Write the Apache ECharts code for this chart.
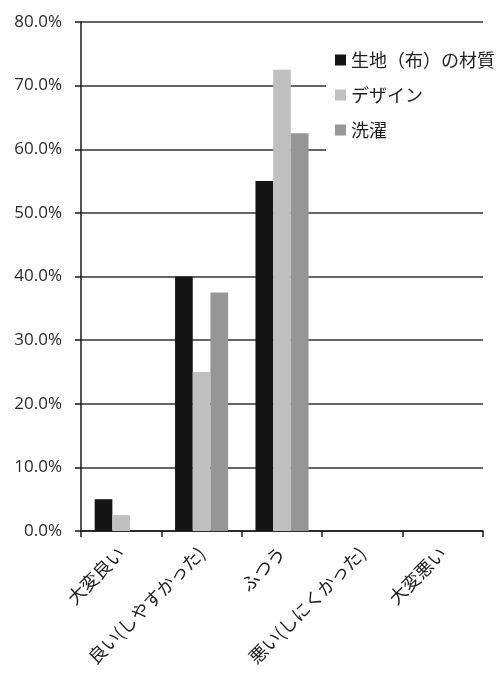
<!DOCTYPE html>
<html>
<head>
<meta charset="utf-8">
<script src="https://cdn.jsdelivr.net/npm/echarts@6/dist/echarts.min.js"></script>
<style>
  html, body { margin: 0; padding: 0; background: #fff; }
  #chart { width: 497px; height: 675px; }
</style>
</head>
<body>
<div id="chart"></div>
<script>
// Survey answer categories (x axis)
const categories = ['大変良い', '良い(しやすかった)', 'ふつう', '悪い(しにくかった)', '大変悪い'];

// Share of answers per aspect, in percent
const seriesNames = ['生地（布）の材質', 'デザイン', '洗濯'];
const fabricValues = [5.0, 40.0, 55.0, 0, 0];
const designValues = [2.5, 25.0, 72.5, 0, 0];
const washingValues = [0, 37.5, 62.5, 0, 0];

const seriesColors = ['#141414', '#c0c0c0', '#969696'];

const jpFont = '"Noto Sans CJK JP", "Noto Sans", sans-serif';

const chart = echarts.init(document.getElementById('chart'));

const valueSets = [fabricValues, designValues, washingValues];

chart.setOption({
  animation: false,
  backgroundColor: '#ffffff',
  textStyle: { fontFamily: jpFont },
  grid: { left: 81, right: 14, top: 22, bottom: 144, containLabel: false },
  legend: {
    orient: 'vertical',
    left: 326,
    top: 43,
    padding: [8, 4, 30, 9],
    backgroundColor: '#ffffff',
    itemWidth: 11,
    itemHeight: 11,
    itemGap: 17,
    icon: 'rect',
    textStyle: { fontSize: 18, lineHeight: 18, color: '#1e1e1e', fontFamily: jpFont },
    data: seriesNames
  },
  xAxis: {
    type: 'category',
    data: categories,
    axisLine: { lineStyle: { color: '#1a1a1a', width: 1.5 } },
    axisTick: { show: true, length: 6, lineStyle: { color: '#1a1a1a', width: 1.5 } },
    axisLabel: {
      interval: 0,
      rotate: 45,
      fontSize: 18,
      color: '#1a1a1a',
      margin: 19,
      fontFamily: jpFont
    }
  },
  yAxis: {
    type: 'value',
    min: 0,
    max: 80,
    interval: 10,
    axisLine: { show: true, lineStyle: { color: '#1a1a1a', width: 1.5 } },
    axisTick: { show: true, length: 6, lineStyle: { color: '#1a1a1a', width: 1.5 } },
    splitLine: { lineStyle: { color: '#333', width: 1.5 } },
    axisLabel: {
      fontSize: 17,
      color: '#2a2a2a',
      margin: 19,
      fontFamily: '"Open Sans", "Noto Sans", sans-serif',
      formatter: v => v.toFixed(1) + '%'
    }
  },
  series: seriesNames.map((name, i) => ({
    name: name,
    type: 'bar',
    data: valueSets[i],
    barGap: '0%',
    barCategoryGap: '34%',
    itemStyle: { color: seriesColors[i] }
  }))
});
</script>
</body>
</html>
